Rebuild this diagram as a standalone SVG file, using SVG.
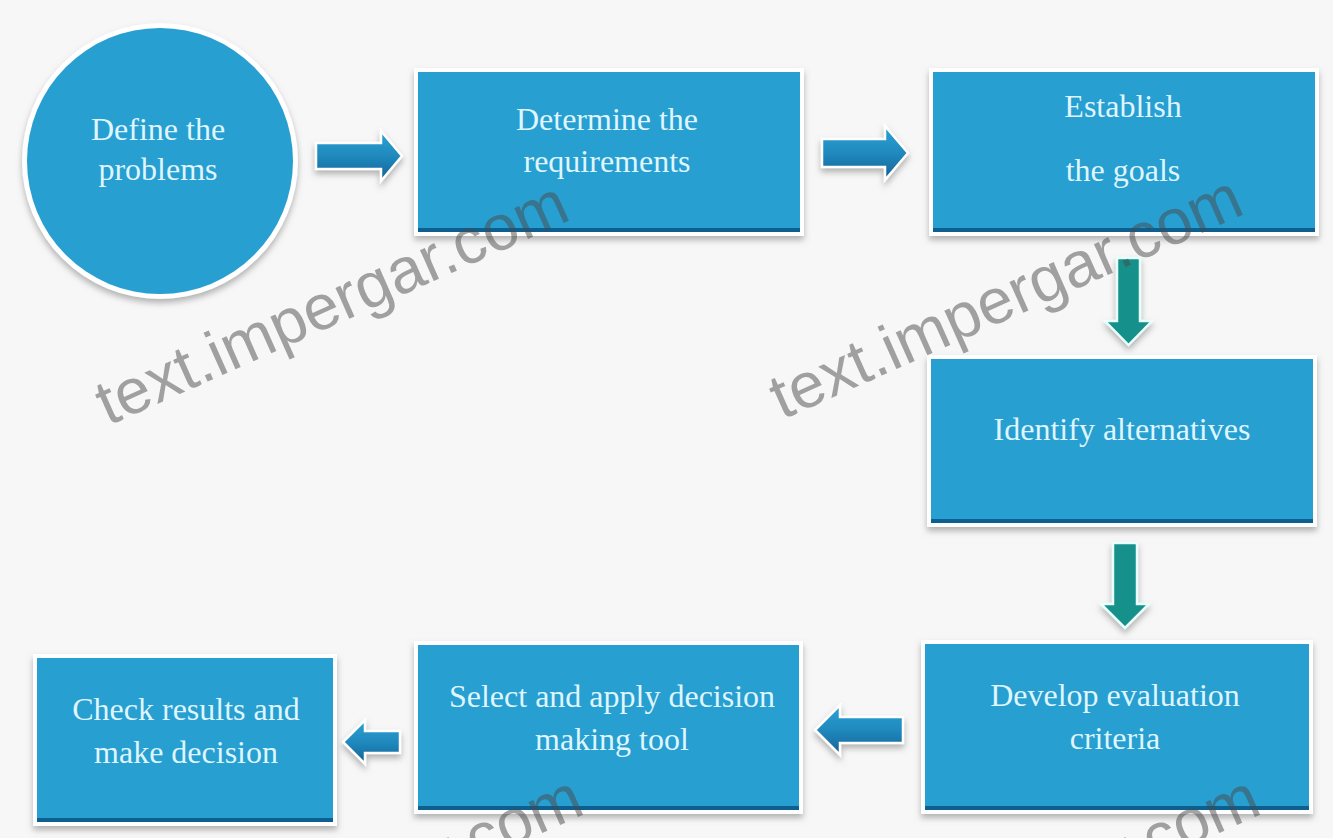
<svg xmlns="http://www.w3.org/2000/svg" width="1333" height="838" viewBox="0 0 1333 838">
  <style>
    .node { fill: #279fd0; }
    .edge { fill: #ffffff; }
    .base { fill: #0d5f8f; }
    .lbl { font-family: "Liberation Serif", "Times New Roman", serif; font-size: 32px; fill: #dff5ff; text-anchor: middle; }
    .mark { font-family: "Liberation Sans", Arial, sans-serif; font-size: 64px; fill: #4a4a4a; fill-opacity: 0.5; }
    .harrow { fill: url(#blueArrow); stroke: #ffffff; stroke-width: 2.5; filter: url(#soft); }
    .varrow { fill: #16908a; stroke: #e8fffb; stroke-width: 2.5; filter: url(#soft); }
  </style>
  <defs>
    <filter id="soft" x="-20%" y="-20%" width="140%" height="150%">
      <feDropShadow dx="0" dy="4" stdDeviation="3" flood-color="#7a7a7a" flood-opacity="0.55"/>
    </filter>
    <linearGradient id="blueArrow" x1="0" y1="0" x2="0" y2="1">
      <stop offset="0" stop-color="#2ca3d6"/>
      <stop offset="0.55" stop-color="#1f86ba"/>
      <stop offset="1" stop-color="#155f93"/>
    </linearGradient>
  </defs>

  <rect x="0" y="0" width="1333" height="838" fill="#f7f7f7"/>

  <!-- process nodes -->
  <g id="n-define">
    <circle cx="160" cy="161" r="138" class="edge" filter="url(#soft)"/>
    <circle cx="160" cy="161" r="133" class="node"/>
    <text class="lbl" x="158" y="140">Define the</text>
    <text class="lbl" x="158" y="180">problems</text>
  </g>

  <g id="n-requirements">
    <rect x="414" y="68" width="390" height="168" class="edge" filter="url(#soft)"/>
    <rect x="418" y="72" width="382" height="160" class="node"/>
    <rect x="418" y="228" width="382" height="4" class="base"/>
    <text class="lbl" x="607" y="130">Determine the</text>
    <text class="lbl" x="607" y="172">requirements</text>
  </g>

  <g id="n-goals">
    <rect x="929" y="68" width="390" height="168" class="edge" filter="url(#soft)"/>
    <rect x="933" y="72" width="382" height="160" class="node"/>
    <rect x="933" y="228" width="382" height="4" class="base"/>
    <text class="lbl" x="1123" y="117">Establish</text>
    <text class="lbl" x="1123" y="181">the goals</text>
  </g>

  <g id="n-alternatives">
    <rect x="927" y="355" width="390" height="172" class="edge" filter="url(#soft)"/>
    <rect x="931" y="359" width="382" height="164" class="node"/>
    <rect x="931" y="519" width="382" height="4" class="base"/>
    <text class="lbl" x="1122" y="440">Identify alternatives</text>
  </g>

  <g id="n-criteria">
    <rect x="921" y="640" width="392" height="174" class="edge" filter="url(#soft)"/>
    <rect x="925" y="644" width="384" height="166" class="node"/>
    <rect x="925" y="806" width="384" height="4" class="base"/>
    <text class="lbl" x="1115" y="706">Develop evaluation</text>
    <text class="lbl" x="1115" y="749">criteria</text>
  </g>

  <g id="n-select">
    <rect x="414" y="641" width="389" height="173" class="edge" filter="url(#soft)"/>
    <rect x="418" y="645" width="381" height="165" class="node"/>
    <rect x="418" y="806" width="381" height="4" class="base"/>
    <text class="lbl" x="612" y="707">Select and apply decision</text>
    <text class="lbl" x="612" y="750">making tool</text>
  </g>

  <g id="n-check">
    <rect x="33" y="654" width="304" height="172" class="edge" filter="url(#soft)"/>
    <rect x="37" y="658" width="296" height="164" class="node"/>
    <rect x="37" y="818" width="296" height="4" class="base"/>
    <text class="lbl" x="186" y="720">Check results and</text>
    <text class="lbl" x="186" y="763">make decision</text>
  </g>

  <!-- connectors -->
  <g id="connectors">
    <path class="harrow" d="M316,143 H381 V131 L402,156 L381,181 V169 H316 Z"/>
    <path class="harrow" d="M822,139 H885 V126 L908,153 L885,180 V167 H822 Z"/>
    <path class="varrow" d="M1117,258 H1140 V321 H1152 L1128.5,345 L1105,321 H1117 Z"/>
    <path class="varrow" d="M1113,543 H1137 V604 H1149 L1125,628 L1101,604 H1113 Z"/>
    <path class="harrow" d="M903,717 V743 H840 V755 L815,730 L840,705 V717 Z"/>
    <path class="harrow" d="M400,731 V753 H365 V764 L343,742 L365,720 V731 Z"/>
  </g>

  <!-- site stamp -->
  <g id="stamp">
    <text class="mark" transform="translate(108,426) rotate(-24)">text.impergar.com</text>
    <text class="mark" transform="translate(782,420) rotate(-24)">text.impergar.com</text>
    <text class="mark" text-anchor="end" transform="translate(587,813) rotate(-24)">text.impergar.com</text>
    <text class="mark" text-anchor="end" transform="translate(1264,813) rotate(-24)">text.impergar.com</text>
  </g>
</svg>
